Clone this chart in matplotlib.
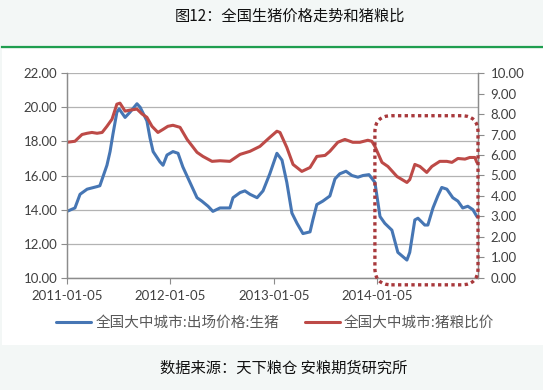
import numpy as np
import pandas as pd
import matplotlib
matplotlib.use("Agg")
import matplotlib.pyplot as plt
import matplotlib.dates as mdates
from matplotlib.patches import FancyBboxPatch, Rectangle
from matplotlib.lines import Line2D

plt.rcParams['font.family'] = ['Lato', 'Noto Sans CJK SC', 'DejaVu Sans']

# 全国大中城市:出场价格:生猪 (left axis, 元/kg)
price_dates = [
    "2011-01-05", "2011-02-02", "2011-02-20", "2011-03-17", "2011-04-21", "2011-05-01",
    "2011-05-26", "2011-06-06", "2011-06-16", "2011-06-30", "2011-07-08", "2011-07-29",
    "2011-08-15", "2011-09-09", "2011-09-20", "2011-10-14", "2011-10-25", "2011-11-05",
    "2011-11-29", "2011-12-10", "2011-12-24", "2012-01-14", "2012-02-01", "2012-02-18",
    "2012-03-14", "2012-04-08", "2012-04-25", "2012-05-17", "2012-06-03", "2012-06-28",
    "2012-07-23", "2012-08-02", "2012-08-13", "2012-09-07", "2012-09-24", "2012-10-12",
    "2012-11-06", "2012-11-27", "2012-12-21", "2013-01-15", "2013-02-02", "2013-02-19",
    "2013-03-09", "2013-03-27", "2013-04-17", "2013-05-12", "2013-05-22", "2013-06-05",
    "2013-06-26", "2013-07-21", "2013-08-08", "2013-08-25", "2013-09-16", "2013-10-07",
    "2013-10-28", "2013-11-15", "2013-12-06", "2013-12-27", "2014-01-14", "2014-01-31",
    "2014-02-25", "2014-03-18", "2014-04-19", "2014-04-29", "2014-05-17", "2014-05-28",
    "2014-06-21", "2014-07-02", "2014-07-20", "2014-08-06", "2014-08-20", "2014-09-07",
    "2014-09-28", "2014-10-16", "2014-11-02", "2014-11-20", "2014-12-08", "2014-12-22",
]
price_values = [
    13.9, 14.1, 14.9, 15.2, 15.35, 15.4,
    16.6, 17.4, 18.4, 19.7, 19.9, 19.4,
    19.7, 20.2, 20.0, 19.2, 18.2, 17.4,
    16.8, 16.6, 17.2, 17.4, 17.3, 16.5,
    15.6, 14.7, 14.5, 14.2, 13.9, 14.1,
    14.1, 14.1, 14.7, 15.0, 15.1, 14.9,
    14.7, 15.1, 16.1, 17.3, 16.9, 15.6,
    13.8, 13.2, 12.6, 12.7, 13.4, 14.3,
    14.5, 14.8, 15.8, 16.1, 16.25, 16.0,
    15.9, 16.0, 16.05, 15.6, 13.6, 13.2,
    12.8, 11.5, 11.05, 11.5, 13.4, 13.5,
    13.1, 13.1, 14.1, 14.8, 15.3, 15.2,
    14.7, 14.5, 14.1, 14.2, 14.0, 13.6,
]

# 全国大中城市:猪粮比价 (right axis)
ratio_dates = [
    "2011-01-05", "2011-02-02", "2011-02-27", "2011-03-17", "2011-04-03", "2011-04-21",
    "2011-05-09", "2011-05-26", "2011-06-13", "2011-06-30", "2011-07-11", "2011-07-29",
    "2011-08-15", "2011-09-09", "2011-09-27", "2011-10-14", "2011-11-01", "2011-11-22",
    "2011-12-10", "2011-12-27", "2012-01-14", "2012-02-08", "2012-03-04", "2012-04-08",
    "2012-04-29", "2012-05-31", "2012-06-28", "2012-08-02", "2012-09-07", "2012-10-12",
    "2012-11-16", "2012-12-21", "2013-01-15", "2013-01-26", "2013-02-19", "2013-03-13",
    "2013-04-13", "2013-05-12", "2013-06-05", "2013-07-04", "2013-07-21", "2013-08-18",
    "2013-09-12", "2013-10-10", "2013-11-04", "2013-12-02", "2013-12-16", "2013-12-27",
    "2014-01-21", "2014-02-11", "2014-03-15", "2014-04-19", "2014-04-29", "2014-05-17",
    "2014-06-04", "2014-06-28", "2014-07-16", "2014-08-13", "2014-09-07", "2014-09-25",
    "2014-10-16", "2014-11-10", "2014-11-27", "2014-12-15", "2014-12-22",
]
ratio_values = [
    6.62, 6.67, 7.0, 7.06, 7.1, 7.06,
    7.1, 7.4, 7.75, 8.48, 8.53, 8.14,
    8.19, 8.24, 8.0, 7.84, 7.4, 7.1,
    7.25, 7.4, 7.45, 7.35, 6.76, 6.13,
    5.93, 5.69, 5.72, 5.69, 6.03, 6.18,
    6.42, 6.86, 7.16, 7.1, 6.37, 5.54,
    5.2, 5.39, 5.93, 5.98, 6.18, 6.62,
    6.76, 6.62, 6.62, 6.72, 6.67, 6.42,
    5.64, 5.44, 4.95, 4.66, 4.8, 5.54,
    5.44, 5.15, 5.44, 5.69, 5.69, 5.64,
    5.83, 5.8, 5.88, 5.88, 5.64,
]

x_ticks = ["2011-01-05", "2012-01-05", "2013-01-05", "2014-01-05"]
x_start, x_end = "2011-01-05", "2014-12-26"

# highlighted period (dotted box)
box_start, box_end = "2013-12-27", "2014-12-26"
box_low, box_high = 9.6, 19.5

price_dates = pd.to_datetime(price_dates)
ratio_dates = pd.to_datetime(ratio_dates)

blue = '#4676b4'
red = '#bd4a47'
grid_c = '#b3b3b3'
spine_c = '#8c8c8c'
text_c = '#404040'

fig = plt.figure(figsize=(5.43, 3.90), dpi=100, facecolor='#f3f7f6')

# white chart panel and green rule under title
fig.patches.append(Rectangle((0.004, 0.115), 0.996, 0.759, transform=fig.transFigure,
                             facecolor='white', edgecolor='none', zorder=-10))
fig.lines.append(Line2D([0.004, 1.0], [0.880, 0.880], transform=fig.transFigure,
                        color='#1f9e4f', linewidth=1.6, zorder=-9))

ax = fig.add_axes([0.1234, 0.2872, 0.7569, 0.5256])
ax.set_facecolor('none')
ax2 = ax.twinx()
ax.set_zorder(1)
ax2.set_zorder(2)
ax2.patch.set_visible(False)

l1, = ax.plot(price_dates, price_values, color=blue, linewidth=2.2,
              solid_capstyle='round', label='全国大中城市:出场价格:生猪')
l2, = ax2.plot(ratio_dates, ratio_values, color=red, linewidth=2.2,
               solid_capstyle='round', label='全国大中城市:猪粮比价')

ax.set_xlim(pd.Timestamp(x_start), pd.Timestamp(x_end))
ax.set_ylim(10, 22)
ax2.set_ylim(0, 10)
ax.set_yticks(np.arange(10, 22.1, 2))
ax2.set_yticks(np.arange(0, 10.1, 1))
ax.yaxis.set_major_formatter(matplotlib.ticker.FormatStrFormatter('%.2f'))
ax2.yaxis.set_major_formatter(matplotlib.ticker.FormatStrFormatter('%.2f'))
ax.set_xticks(pd.to_datetime(x_ticks))
ax.xaxis.set_major_formatter(mdates.DateFormatter('%Y-%m-%d'))

ax.grid(axis='y', color=grid_c, linewidth=0.9)
ax.set_axisbelow(True)

for a in (ax, ax2):
    a.spines['top'].set_visible(False)
    for s in ('left', 'right', 'bottom'):
        a.spines[s].set_color(spine_c)
        a.spines[s].set_linewidth(0.9)
    a.tick_params(colors=spine_c, labelcolor=text_c, labelsize=9.5, length=4, width=0.8)
ax.tick_params(axis='x', pad=5)
ax.tick_params(axis='y', pad=3)
ax2.tick_params(axis='y', pad=5)

# rounded dotted box over the last year
ax.figure.canvas.draw()
to_ax = ax.transData + ax.transAxes.inverted()
x0, y0 = to_ax.transform((mdates.date2num(pd.Timestamp(box_start)), box_low))
x1, y1 = to_ax.transform((mdates.date2num(pd.Timestamp(box_end)), box_high))
bbox = ax.get_position()
aspect = (bbox.width * 5.43) / (bbox.height * 3.90)
box = FancyBboxPatch((x0, y0), x1 - x0, y1 - y0, transform=ax.transAxes,
                     boxstyle='round,pad=0,rounding_size=0.04', mutation_aspect=aspect,
                     facecolor='none', edgecolor='#a8393c', linewidth=2.4,
                     linestyle=(0, (1, 1)), clip_on=False, zorder=5)
ax2.add_patch(box)

leg = fig.legend([l1, l2], [l1.get_label(), l2.get_label()], loc='center',
                 bbox_to_anchor=(0.507, 0.172), ncol=2, frameon=False,
                 handlelength=2.4, handletextpad=0.25, columnspacing=1.8,
                 prop={'family': ['Noto Sans CJK SC', 'DejaVu Sans'], 'size': 10.5})
for t in leg.get_texts():
    t.set_color('#595959')

fig.text(0.534, 0.958, '图12：全国生猪价格走势和猪粮比', ha='center', va='center',
         fontsize=11, family=['Noto Sans CJK SC', 'DejaVu Sans'], color='#111111')
fig.text(0.523, 0.056, '数据来源：天下粮仓 安粮期货研究所', ha='center', va='center',
         fontsize=11, family=['Noto Sans CJK SC', 'DejaVu Sans'], color='#111111')

fig.savefig('out.png', dpi=100, facecolor=fig.get_facecolor())
